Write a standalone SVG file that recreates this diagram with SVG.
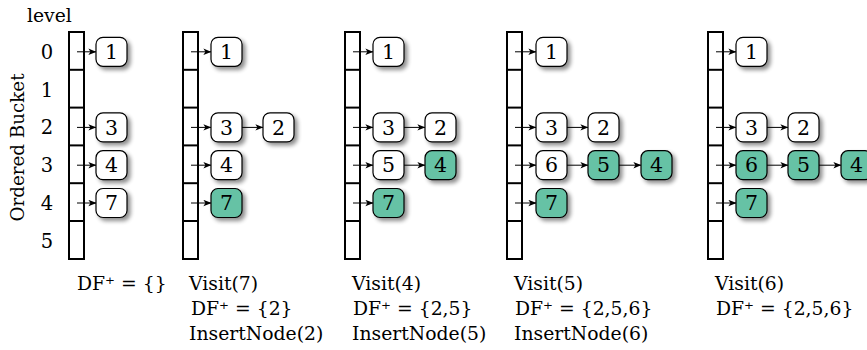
<svg xmlns="http://www.w3.org/2000/svg" width="867" height="350" viewBox="0 0 867 350">
<style>
text{font-family:"DejaVu Serif","Liberation Serif",serif;font-size:18.8px;fill:#000}
.lbl{text-anchor:middle;font-size:19.5px}
.ax{text-anchor:middle;font-size:18.3px}
.bk{fill:#fff;stroke:#000;stroke-width:2}
.sep{stroke:#000;stroke-width:2}
.n rect{fill:#fff;stroke:#000;stroke-width:1.2}
.n.g rect{fill:#66c2a5}
.n text{text-anchor:middle;font-size:20.5px}
.c line{stroke:#000;stroke-width:1;marker-end:url(#ah)}
</style>
<defs>
<marker id="ah" viewBox="0 0 10 8" refX="9.5" refY="4" markerWidth="8" markerHeight="7" markerUnits="userSpaceOnUse" orient="auto">
<path d="M0,0 L10,4 L0,8 L2.5,4 z" fill="#000"/>
</marker>
<filter id="sh" x="-40%" y="-40%" width="190%" height="190%">
<feGaussianBlur in="SourceAlpha" stdDeviation="2"/>
<feOffset dx="3" dy="3"/>
<feComponentTransfer><feFuncA type="linear" slope="0.45"/></feComponentTransfer>
<feMerge><feMergeNode/><feMergeNode in="SourceGraphic"/></feMerge>
</filter>
<g id="bucket">
<rect class="bk" x="0" y="32" width="15" height="227"/>
<line class="sep" x1="0" y1="69.8" x2="15" y2="69.8"/>
<line class="sep" x1="0" y1="107.6" x2="15" y2="107.6"/>
<line class="sep" x1="0" y1="145.4" x2="15" y2="145.4"/>
<line class="sep" x1="0" y1="183.2" x2="15" y2="183.2"/>
<line class="sep" x1="0" y1="221" x2="15" y2="221"/>
</g>
</defs>

<g id="labels">
<text x="27" y="22">level</text>
<text class="lbl" x="47" y="58.8">0</text>
<text class="lbl" x="47" y="96.6">1</text>
<text class="lbl" x="47" y="134.4">2</text>
<text class="lbl" x="47" y="172.2">3</text>
<text class="lbl" x="47" y="210">4</text>
<text class="lbl" x="47" y="247.8">5</text>
<text class="ax" transform="translate(24,147.5) rotate(-90)">Ordered Bucket</text>
</g>

<g id="buckets">
<use href="#bucket" x="69"/>
<use href="#bucket" x="183"/>
<use href="#bucket" x="345"/>
<use href="#bucket" x="507"/>
<use href="#bucket" x="708"/>
</g>

<g id="connectors" class="c">
<line x1="77" y1="51.8" x2="96" y2="51.8"/>
<line x1="77" y1="127.4" x2="96" y2="127.4"/>
<line x1="77" y1="165.2" x2="96" y2="165.2"/>
<line x1="77" y1="203" x2="96" y2="203"/>

<line x1="191" y1="51.8" x2="211" y2="51.8"/>
<line x1="191" y1="127.4" x2="211" y2="127.4"/>
<line x1="242" y1="127.4" x2="263" y2="127.4"/>
<line x1="191" y1="165.2" x2="211" y2="165.2"/>
<line x1="191" y1="203" x2="211" y2="203"/>

<line x1="353" y1="51.8" x2="373" y2="51.8"/>
<line x1="353" y1="127.4" x2="373" y2="127.4"/>
<line x1="404" y1="127.4" x2="425" y2="127.4"/>
<line x1="353" y1="165.2" x2="373" y2="165.2"/>
<line x1="404" y1="165.2" x2="425" y2="165.2"/>
<line x1="353" y1="203" x2="373" y2="203"/>

<line x1="515" y1="51.8" x2="536" y2="51.8"/>
<line x1="515" y1="127.4" x2="536" y2="127.4"/>
<line x1="567" y1="127.4" x2="588" y2="127.4"/>
<line x1="515" y1="165.2" x2="536" y2="165.2"/>
<line x1="567" y1="165.2" x2="588" y2="165.2"/>
<line x1="619" y1="165.2" x2="641" y2="165.2"/>
<line x1="515" y1="203" x2="536" y2="203"/>

<line x1="716" y1="51.8" x2="736" y2="51.8"/>
<line x1="716" y1="127.4" x2="736" y2="127.4"/>
<line x1="767" y1="127.4" x2="788" y2="127.4"/>
<line x1="716" y1="165.2" x2="736" y2="165.2"/>
<line x1="767" y1="165.2" x2="788" y2="165.2"/>
<line x1="819" y1="165.2" x2="841" y2="165.2"/>
<line x1="716" y1="203" x2="736" y2="203"/>
</g>

<g id="c1-n1" class="n"><rect x="96" y="37.3" width="31" height="29" rx="7" filter="url(#sh)"/><text x="111.5" y="59">1</text></g>
<g id="c1-n3" class="n"><rect x="96" y="112.9" width="31" height="29" rx="7" filter="url(#sh)"/><text x="111.5" y="134.6">3</text></g>
<g id="c1-n4" class="n"><rect x="96" y="150.7" width="31" height="29" rx="7" filter="url(#sh)"/><text x="111.5" y="172.4">4</text></g>
<g id="c1-n7" class="n"><rect x="96" y="188.5" width="31" height="29" rx="7" filter="url(#sh)"/><text x="111.5" y="210.2">7</text></g>

<g id="c2-n1" class="n"><rect x="211" y="37.3" width="31" height="29" rx="7" filter="url(#sh)"/><text x="226.5" y="59">1</text></g>
<g id="c2-n3" class="n"><rect x="211" y="112.9" width="31" height="29" rx="7" filter="url(#sh)"/><text x="226.5" y="134.6">3</text></g>
<g id="c2-n2" class="n"><rect x="263" y="112.9" width="31" height="29" rx="7" filter="url(#sh)"/><text x="278.5" y="134.6">2</text></g>
<g id="c2-n4" class="n"><rect x="211" y="150.7" width="31" height="29" rx="7" filter="url(#sh)"/><text x="226.5" y="172.4">4</text></g>
<g id="c2-n7" class="n g"><rect x="211" y="188.5" width="31" height="29" rx="7" filter="url(#sh)"/><text x="226.5" y="210.2">7</text></g>

<g id="c3-n1" class="n"><rect x="373" y="37.3" width="31" height="29" rx="7" filter="url(#sh)"/><text x="388.5" y="59">1</text></g>
<g id="c3-n3" class="n"><rect x="373" y="112.9" width="31" height="29" rx="7" filter="url(#sh)"/><text x="388.5" y="134.6">3</text></g>
<g id="c3-n2" class="n"><rect x="425" y="112.9" width="31" height="29" rx="7" filter="url(#sh)"/><text x="440.5" y="134.6">2</text></g>
<g id="c3-n5" class="n"><rect x="373" y="150.7" width="31" height="29" rx="7" filter="url(#sh)"/><text x="388.5" y="172.4">5</text></g>
<g id="c3-n4" class="n g"><rect x="425" y="150.7" width="31" height="29" rx="7" filter="url(#sh)"/><text x="440.5" y="172.4">4</text></g>
<g id="c3-n7" class="n g"><rect x="373" y="188.5" width="31" height="29" rx="7" filter="url(#sh)"/><text x="388.5" y="210.2">7</text></g>

<g id="c4-n1" class="n"><rect x="536" y="37.3" width="31" height="29" rx="7" filter="url(#sh)"/><text x="551.5" y="59">1</text></g>
<g id="c4-n3" class="n"><rect x="536" y="112.9" width="31" height="29" rx="7" filter="url(#sh)"/><text x="551.5" y="134.6">3</text></g>
<g id="c4-n2" class="n"><rect x="588" y="112.9" width="31" height="29" rx="7" filter="url(#sh)"/><text x="603.5" y="134.6">2</text></g>
<g id="c4-n6" class="n"><rect x="536" y="150.7" width="31" height="29" rx="7" filter="url(#sh)"/><text x="551.5" y="172.4">6</text></g>
<g id="c4-n5" class="n g"><rect x="588" y="150.7" width="31" height="29" rx="7" filter="url(#sh)"/><text x="603.5" y="172.4">5</text></g>
<g id="c4-n4" class="n g"><rect x="641" y="150.7" width="31" height="29" rx="7" filter="url(#sh)"/><text x="656.5" y="172.4">4</text></g>
<g id="c4-n7" class="n g"><rect x="536" y="188.5" width="31" height="29" rx="7" filter="url(#sh)"/><text x="551.5" y="210.2">7</text></g>

<g id="c5-n1" class="n"><rect x="736" y="37.3" width="31" height="29" rx="7" filter="url(#sh)"/><text x="751.5" y="59">1</text></g>
<g id="c5-n3" class="n"><rect x="736" y="112.9" width="31" height="29" rx="7" filter="url(#sh)"/><text x="751.5" y="134.6">3</text></g>
<g id="c5-n2" class="n"><rect x="788" y="112.9" width="31" height="29" rx="7" filter="url(#sh)"/><text x="803.5" y="134.6">2</text></g>
<g id="c5-n6" class="n g"><rect x="736" y="150.7" width="31" height="29" rx="7" filter="url(#sh)"/><text x="751.5" y="172.4">6</text></g>
<g id="c5-n5" class="n g"><rect x="788" y="150.7" width="31" height="29" rx="7" filter="url(#sh)"/><text x="803.5" y="172.4">5</text></g>
<g id="c5-n4" class="n g"><rect x="841" y="150.7" width="31" height="29" rx="7" filter="url(#sh)"/><text x="856.5" y="172.4">4</text></g>
<g id="c5-n7" class="n g"><rect x="736" y="188.5" width="31" height="29" rx="7" filter="url(#sh)"/><text x="751.5" y="210.2">7</text></g>

<g id="captions">
<text x="77" y="290">DF⁺ = {}</text>
<text x="189" y="290">Visit(7)</text>
<text x="191" y="315">DF⁺ = {2}</text>
<text x="189" y="340">InsertNode(2)</text>
<text x="352" y="290">Visit(4)</text>
<text x="353" y="315">DF⁺ = {2,5}</text>
<text x="352" y="340">InsertNode(5)</text>
<text x="514" y="290">Visit(5)</text>
<text x="515" y="315">DF⁺ = {2,5,6}</text>
<text x="514" y="340">InsertNode(6)</text>
<text x="715" y="290">Visit(6)</text>
<text x="716" y="315">DF⁺ = {2,5,6}</text>
</g>
</svg>
